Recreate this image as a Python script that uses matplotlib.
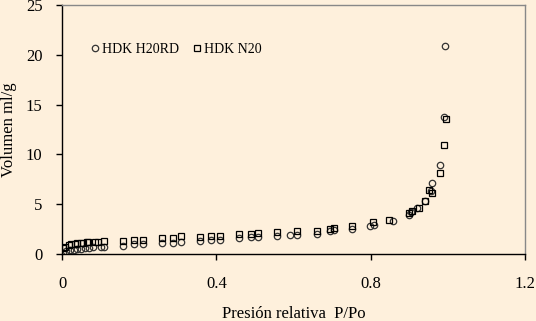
import matplotlib
matplotlib.use("Agg")
import matplotlib.pyplot as plt

plt.rcParams['font.family'] = ['Liberation Serif', 'DejaVu Serif']

# HDK H20RD (circles)
x_h20rd = [0.002, 0.01, 0.02, 0.03, 0.04, 0.05, 0.06, 0.07, 0.08, 0.1,
           0.11, 0.157, 0.187, 0.21, 0.259, 0.287, 0.308, 0.358, 0.386, 0.409,
           0.458, 0.49, 0.507, 0.558, 0.592, 0.61, 0.66, 0.694, 0.705, 0.752,
           0.798, 0.809, 0.859, 0.90, 0.905, 0.921, 0.94, 0.956, 0.958, 0.979,
           0.989, 0.993]
y_h20rd = [0.1, 0.3, 0.4, 0.45, 0.5, 0.55, 0.6, 0.65, 0.7, 0.75,
           0.75, 0.85, 1.0, 1.0, 1.07, 1.15, 1.23, 1.33, 1.45, 1.45,
           1.57, 1.7, 1.7, 1.85, 1.9, 1.95, 2.0, 2.3, 2.4, 2.5,
           2.8, 2.9, 3.33, 3.95, 4.2, 4.6, 5.3, 6.33, 7.17, 8.93,
           13.73, 20.9]

# HDK N20 (squares)
x_n20 = [0.002, 0.008, 0.017, 0.024, 0.033, 0.04, 0.048, 0.054, 0.064, 0.068,
         0.086, 0.093, 0.11, 0.157, 0.187, 0.21, 0.259, 0.287, 0.308, 0.358,
         0.386, 0.409, 0.458, 0.49, 0.507, 0.558, 0.61, 0.66, 0.694, 0.705,
         0.752, 0.807, 0.848, 0.90, 0.908, 0.924, 0.94, 0.951, 0.958, 0.979,
         0.989, 0.995]
y_n20 = [0.6, 0.7, 0.9, 1.0, 1.05, 1.1, 1.1, 1.15, 1.2, 1.2,
         1.25, 1.25, 1.3, 1.35, 1.45, 1.45, 1.57, 1.6, 1.8, 1.73,
         1.83, 1.85, 2.0, 2.05, 2.1, 2.2, 2.3, 2.3, 2.5, 2.6,
         2.8, 3.17, 3.4, 4.07, 4.3, 4.57, 5.3, 6.47, 6.13, 8.13,
         10.97, 13.6]

bg = '#fef0dc'
fig = plt.figure(figsize=(5.36, 3.21), dpi=100, facecolor=bg)
ax = fig.add_axes([0.1157, 0.2087, 0.8638, 0.7758], facecolor=bg)

ax.plot(x_h20rd, y_h20rd, 'o', ms=4.6, mfc='none', mec='#333333', mew=0.9,
        label='HDK H20RD')
ax.plot(x_n20, y_n20, 's', ms=4.6, mfc='none', mec='black', mew=0.9,
        label='HDK N20')

ax.set_xlim(0, 1.2)
ax.set_ylim(0, 25)
ax.set_xticks([0, 0.4, 0.8, 1.2])
ax.set_xticklabels(['0', '0.4', '0.8', '1.2'])
ax.set_yticks([0, 5, 10, 15, 20, 25])

for s in ['top', 'right']:
    ax.spines[s].set_color('#888888')
    ax.spines[s].set_linewidth(1)
for s in ['left', 'bottom']:
    ax.spines[s].set_color('black')
    ax.spines[s].set_linewidth(1)

ax.tick_params(direction='out', length=4, width=1, labelsize=12)
ax.tick_params(axis='x', pad=12)
ax.tick_params(axis='y', pad=10)

ax.set_xlabel('Presión relativa  P/Po', fontsize=12, labelpad=10)
ax.set_ylabel('Volumen ml/g', fontsize=12, labelpad=6)

ax.legend(loc='upper left', bbox_to_anchor=(0.05, 0.87), ncol=2, frameon=False,
          fontsize=10, handlelength=0.6, handletextpad=0.2, columnspacing=1.0,
          borderaxespad=0)

fig.savefig('out.png', dpi=100, facecolor=bg)
